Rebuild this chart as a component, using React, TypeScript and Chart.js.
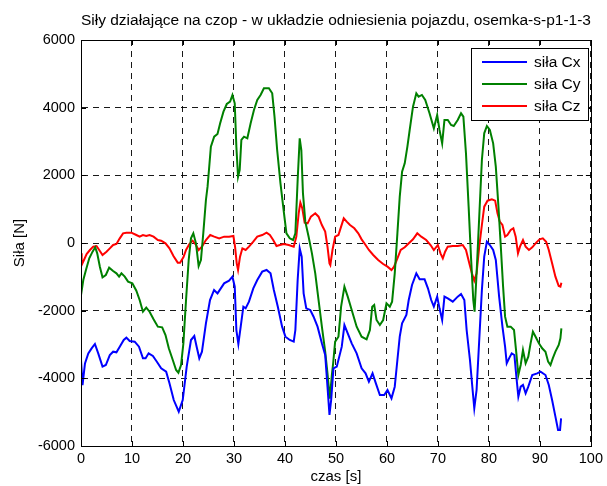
import React, { useEffect, useRef } from "react";
import { Chart, registerables } from "chart.js";

Chart.register(...registerables);

const chartTitle = "Siły działające na czop - w układzie odniesienia pojazdu, osemka-s-p1-1-3";
const xAxisTitle = "czas [s]";
const yAxisTitle = "Siła [N]";
const seriesLabels = ["siła Cx", "siła Cy", "siła Cz"];
const seriesColors = ["#0000ff", "#008000", "#ff0000"];

const cxTime = [0, 0.3, 0.78, 1.43, 2.08, 2.73, 3.38, 4.22, 4.87, 5.65, 6.3, 6.95, 7.6, 8.38, 8.9, 9.55, 10.53, 11.37, 12.15, 12.67, 13.26, 14.1, 14.88, 15.72, 16.7, 17.35, 18.19, 19.17, 19.95, 20.73, 21.57, 22.22, 22.68, 23.2, 23.72, 24.5, 25.3, 26.1, 26.77, 27.42, 28.07, 29.04, 29.7, 30.15, 30.47, 30.86, 31.32, 31.84, 32.29, 32.94, 33.79, 34.57, 35.54, 36.39, 37.17, 37.82, 38.6, 39.44, 40.09, 40.94, 41.72, 42.04, 42.49, 42.89, 43.28, 43.66, 44.18, 44.96, 45.61, 46.39, 47.24, 47.89, 48.34, 48.73, 49.06, 49.51, 50.16, 51.14, 51.66, 52.31, 53.09, 54.06, 55.03, 55.81, 56.46, 57.18, 57.83, 58.61, 59.46, 60.11, 60.89, 61.53, 62.05, 62.51, 62.97, 63.81, 64.27, 64.92, 65.76, 66.41, 67.38, 68.04, 68.68, 69.2, 69.85, 70.31, 70.83, 71.28, 71.93, 72.91, 73.88, 74.53, 75.18, 75.63, 76.28, 76.8, 77.13, 77.58, 78.1, 78.62, 79.08, 79.6, 80.18, 80.83, 81.35, 82.0, 82.65, 83.17, 83.49, 83.95, 84.47, 84.99, 85.38, 85.77, 86.23, 86.68, 87.2, 87.72, 88.5, 89.47, 90.12, 91.09, 91.74, 92.39, 93.04, 93.56, 93.95, 94.15];
const cxValues = [-3450, -4200, -3557, -3261, -3113, -2985, -3261, -3655, -3606, -3311, -3212, -3232, -3064, -2867, -2798, -2897, -2917, -3064, -3409, -3409, -3261, -3340, -3508, -3705, -3803, -4148, -4641, -4986, -4641, -3655, -2867, -2749, -3064, -3409, -3212, -2375, -1685, -1389, -1488, -1340, -1192, -1113, -995, -1291, -2572, -2985, -2473, -1882, -1931, -1734, -1340, -1094, -847, -798, -897, -1389, -1882, -2473, -2769, -2867, -2917, -2572, -1094, -158, -404, -1488, -1931, -1980, -2178, -2473, -2966, -3311, -4247, -5084, -4641, -3705, -3655, -3064, -2424, -2670, -2966, -3261, -3705, -3852, -4099, -3852, -4148, -4493, -4493, -4345, -4591, -4247, -3458, -2769, -2375, -2128, -1685, -1241, -897, -1074, -1074, -1340, -1685, -1882, -1586, -1931, -2276, -1586, -1636, -1734, -1586, -1508, -1685, -2572, -3458, -4345, -4887, -4345, -2867, -1389, -404, 39, -59, -207, -502, -1586, -2473, -3064, -3557, -3409, -3261, -3311, -3951, -4542, -4247, -4197, -4444, -4247, -3902, -3852, -3803, -3902, -4197, -4641, -5133, -5527, -5527, -5183];

const cyTime = [0, 0.45, 0.97, 1.62, 2.27, 2.79, 3.18, 3.7, 4.22, 4.87, 5.52, 6.3, 6.95, 7.47, 7.93, 8.58, 9.23, 10.07, 10.85, 11.5, 12.15, 12.8, 13.45, 14.23, 15.07, 15.92, 16.57, 17.22, 18.0, 18.65, 19.1, 19.62, 20.08, 20.6, 21.12, 21.57, 22.03, 22.55, 23.07, 23.52, 23.98, 24.5, 24.82, 25.15, 25.47, 26.12, 26.77, 27.29, 27.94, 28.59, 29.24, 29.7, 30.15, 30.47, 30.8, 31.12, 31.45, 31.97, 32.62, 33.27, 33.92, 34.57, 35.22, 35.87, 36.85, 37.5, 37.95, 38.47, 39.12, 39.77, 40.29, 40.94, 41.59, 42.04, 42.49, 42.89, 43.21, 43.53, 43.99, 44.64, 45.29, 45.94, 46.59, 47.24, 47.89, 48.34, 48.8, 49.2, 49.45, 49.84, 50.49, 51.01, 51.66, 52.31, 53.09, 54.06, 55.03, 56.01, 56.66, 57.11, 57.5, 57.96, 58.61, 59.26, 59.91, 60.56, 61.01, 61.53, 62.05, 62.51, 62.97, 63.49, 64.01, 64.46, 65.11, 65.76, 66.21, 66.86, 67.51, 68.35, 69.2, 69.85, 70.31, 70.83, 71.28, 71.93, 72.58, 73.1, 73.88, 74.53, 74.99, 75.5, 76.02, 76.48, 76.93, 77.19, 77.58, 78.1, 78.62, 79.08, 79.6, 80.18, 80.83, 81.35, 81.87, 82.33, 82.78, 83.17, 83.62, 84.27, 84.92, 85.38, 85.77, 86.23, 86.68, 87.2, 87.72, 88.17, 88.63, 89.15, 89.8, 90.44, 91.09, 91.61, 92.07, 92.52, 93.04, 93.69, 94.02, 94.21];
const cyValues = [-1537, -1094, -798, -453, -256, -128, -305, -700, -1015, -946, -729, -828, -897, -995, -897, -995, -1143, -1192, -1409, -1685, -2030, -1911, -2030, -2256, -2473, -2493, -2719, -3113, -3458, -3754, -3833, -3606, -2966, -1685, -502, 138, 286, -10, -680, -502, 286, 1271, 1665, 2256, 2847, 3143, 3222, 3537, 3882, 4109, 4178, 4375, 4128, 2847, 1961, 2158, 3045, 3143, 3094, 3537, 3931, 4227, 4375, 4572, 4572, 4424, 3734, 2749, 1764, 926, 286, 138, 89, 286, 1862, 3094, 2749, 1468, 631, 187, -305, -897, -1685, -2473, -3212, -3852, -4600, -3900, -3557, -2917, -2769, -1882, -1291, -1586, -1980, -2473, -2769, -2847, -2572, -1882, -1833, -2276, -2424, -2276, -1783, -1882, -1734, -897, 286, 1370, 2109, 2355, 2847, 3340, 4030, 4424, 4325, 4375, 4227, 3833, 3389, 3784, 3340, 2946, 3636, 3636, 3488, 3458, 3636, 3833, 3734, 2650, 1074, -404, -1685, -2030, -897, 778, 2453, 3242, 3458, 3340, 2946, 2256, 1074, -108, -1291, -2178, -2473, -2473, -2572, -3261, -3902, -3606, -3163, -3557, -3360, -2966, -2621, -2769, -2966, -3113, -3212, -3508, -3606, -3409, -3212, -3015, -2818, -2522];

const czTime = [0, 0.13, 0.58, 1.1, 1.75, 2.4, 3.05, 3.57, 4.22, 5.0, 5.65, 6.3, 6.95, 7.6, 8.25, 8.9, 9.88, 10.85, 11.5, 12.15, 12.8, 13.45, 14.23, 15.07, 15.72, 16.57, 17.35, 18.13, 18.97, 19.43, 20.08, 20.6, 21.25, 21.9, 22.55, 23.07, 23.72, 24.5, 25.34, 26.12, 27.1, 28.07, 29.04, 29.89, 30.21, 30.54, 30.8, 31.19, 31.65, 32.29, 32.94, 33.79, 34.57, 35.54, 36.39, 37.04, 37.69, 38.34, 38.99, 39.77, 40.74, 41.72, 42.23, 42.69, 43.02, 43.4, 43.86, 44.44, 45.09, 45.94, 46.59, 47.24, 47.89, 48.34, 48.73, 48.9, 49.32, 49.84, 50.49, 51.01, 51.53, 52.11, 52.76, 53.6, 54.38, 55.03, 55.81, 56.46, 57.31, 58.28, 59.26, 60.11, 60.89, 61.4, 62.05, 62.7, 63.49, 64.14, 65.11, 65.95, 66.73, 67.7, 68.55, 69.2, 69.98, 70.5, 70.96, 71.41, 71.93, 72.91, 73.88, 74.86, 75.5, 76.15, 76.67, 77.13, 77.58, 78.1, 78.62, 79.08, 79.73, 80.57, 81.22, 81.68, 82.13, 82.65, 83.17, 83.62, 84.27, 84.79, 85.25, 85.7, 86.09, 86.68, 87.2, 87.85, 88.5, 89.28, 89.93, 90.57, 91.22, 91.74, 92.39, 93.04, 93.69, 94.02, 94.21];
const czValues = [-300, -650, -502, -325, -207, -108, -89, -207, -355, -256, -158, -59, -30, 138, 286, 305, 305, 236, 187, 236, 207, 236, 187, 89, 69, -10, -158, -384, -581, -581, -424, -207, -30, 69, -59, -207, -108, 89, 236, 187, 138, 187, 187, 207, -108, -601, -798, -404, -158, -207, -108, 39, 187, 236, 305, 236, 89, -89, -59, -30, -59, -108, 187, 877, 1192, 1025, 601, 581, 778, 877, 778, 532, 335, -108, -601, -650, -207, 187, 236, 483, 729, 631, 532, 434, 286, 108, -59, -207, -355, -502, -621, -700, -798, -700, -453, -207, -128, -30, 108, 286, 187, 89, -59, -207, -59, -305, -453, -256, -108, -89, -89, -59, -207, -601, -897, -1113, -897, -108, 532, 1074, 1251, 1291, 1251, 877, 631, 532, 187, 236, 384, 434, 187, -305, -108, 89, -108, -207, -128, 10, 108, 138, 39, -207, -601, -995, -1271, -1291, -1172];

const xTicks = [0, 10, 20, 30, 40, 50, 60, 70, 80, 90, 100];
const yTicks = [-6000, -4000, -2000, 0, 2000, 4000, 6000];

const FONT = "'Liberation Sans', Arial, sans-serif";

const toPoints = (t: number[], v: number[]) => t.map((x, i) => ({ x, y: v[i] }));

const matlabPlugin = {
  id: "matlabDecor",
  afterDraw(chart: any) {
    const { ctx, chartArea } = chart;
    const { left, right, top, bottom } = chartArea;
    const xs = chart.scales.x;
    const ys = chart.scales.y;
    ctx.save();
    ctx.strokeStyle = "#000";
    ctx.lineWidth = 1;
    ctx.setLineDash([]);
    ctx.strokeRect(Math.round(left) + 0.5, Math.round(top) + 0.5, Math.round(right - left), Math.round(bottom - top));
    const tl = 5;
    ctx.beginPath();
    xTicks.forEach((t) => {
      const px = Math.round(xs.getPixelForValue(t)) + 0.5;
      ctx.moveTo(px, bottom);
      ctx.lineTo(px, bottom - tl);
      ctx.moveTo(px, top);
      ctx.lineTo(px, top + tl);
    });
    yTicks.forEach((t) => {
      const py = Math.round(ys.getPixelForValue(t)) + 0.5;
      ctx.moveTo(left, py);
      ctx.lineTo(left + tl, py);
      ctx.moveTo(right, py);
      ctx.lineTo(right - tl, py);
    });
    ctx.stroke();

    ctx.fillStyle = "#000";
    ctx.font = `15.5px ${FONT}`;
    ctx.textAlign = "center";
    ctx.textBaseline = "middle";
    ctx.fillText(chartTitle, (left + right) / 2, 21);
    ctx.font = `15px ${FONT}`;
    ctx.fillText(xAxisTitle, (left + right) / 2, 477);
    ctx.save();
    ctx.translate(20, (top + bottom) / 2);
    ctx.rotate(-Math.PI / 2);
    ctx.fillText(yAxisTitle, 0, 0);
    ctx.restore();

    const lx = 471, ly = 48, lw = 117, lh = 72;
    ctx.fillStyle = "#fff";
    ctx.fillRect(lx, ly, lw, lh);
    ctx.strokeStyle = "#000";
    ctx.lineWidth = 1;
    ctx.strokeRect(lx + 0.5, ly + 0.5, lw, lh);
    const rows = [62, 84, 106];
    seriesLabels.forEach((lab, i) => {
      ctx.strokeStyle = seriesColors[i];
      ctx.lineWidth = 2;
      ctx.beginPath();
      ctx.moveTo(482, rows[i]);
      ctx.lineTo(527, rows[i]);
      ctx.stroke();
      ctx.fillStyle = "#000";
      ctx.textAlign = "left";
      ctx.textBaseline = "middle";
      ctx.font = `15.5px ${FONT}`;
      ctx.fillText(lab, 534, rows[i] + 1);
    });
    ctx.restore();
  },
};

export default function App() {
  const ref = useRef<HTMLCanvasElement | null>(null);
  useEffect(() => {
    if (!ref.current) return;
    const series = [
      toPoints(cxTime, cxValues),
      toPoints(cyTime, cyValues),
      toPoints(czTime, czValues),
    ];
    const gridCommon = {
      color: "rgba(0,0,0,0.9)",
      lineWidth: 1,
      drawTicks: false,
    };
    const chart = new Chart(ref.current, {
      type: "line",
      data: {
        datasets: series.map((d, i) => ({
          label: seriesLabels[i],
          data: d,
          borderColor: seriesColors[i],
          backgroundColor: seriesColors[i],
          borderWidth: 2,
          pointRadius: 0,
          tension: 0,
          fill: false,
        })),
      },
      options: {
        responsive: false,
        animation: false,
        parsing: false as any,
        layout: { padding: { top: 40, right: 13, bottom: 0, left: 0 } },
        plugins: {
          legend: { display: false },
          title: { display: false },
          tooltip: { enabled: false },
        },
        scales: {
          x: {
            type: "linear",
            min: 0,
            max: 100,
            afterFit: (s: any) => { s.height = 40; },
            afterBuildTicks: (s: any) => { s.ticks = xTicks.map((v) => ({ value: v })); },
            grid: gridCommon,
            border: { display: true, color: "#000", width: 1, dash: [6, 5] } as any,
            ticks: {
              color: "#000",
              font: { family: FONT, size: 14.5 },
              padding: 4,
              maxRotation: 0,
              callback: (v: any) => String(v),
            },
          },
          y: {
            type: "linear",
            min: -6000,
            max: 6000,
            afterFit: (s: any) => { s.width = 81; },
            afterBuildTicks: (s: any) => { s.ticks = yTicks.map((v) => ({ value: v })); },
            grid: gridCommon,
            border: { display: true, color: "#000", width: 1, dash: [6, 5] } as any,
            ticks: {
              color: "#000",
              font: { family: FONT, size: 14.5 },
              padding: 6,
              callback: (v: any) => String(v),
            },
          },
        },
      },
      plugins: [matlabPlugin],
    });
    return () => chart.destroy();
  }, []);
  return (
    <div style={{ position: "fixed", left: 0, top: 0, width: 607, height: 486, background: "#fff" }}>
      <canvas ref={ref} width={607} height={486} style={{ display: "block" }} />
    </div>
  );
}
